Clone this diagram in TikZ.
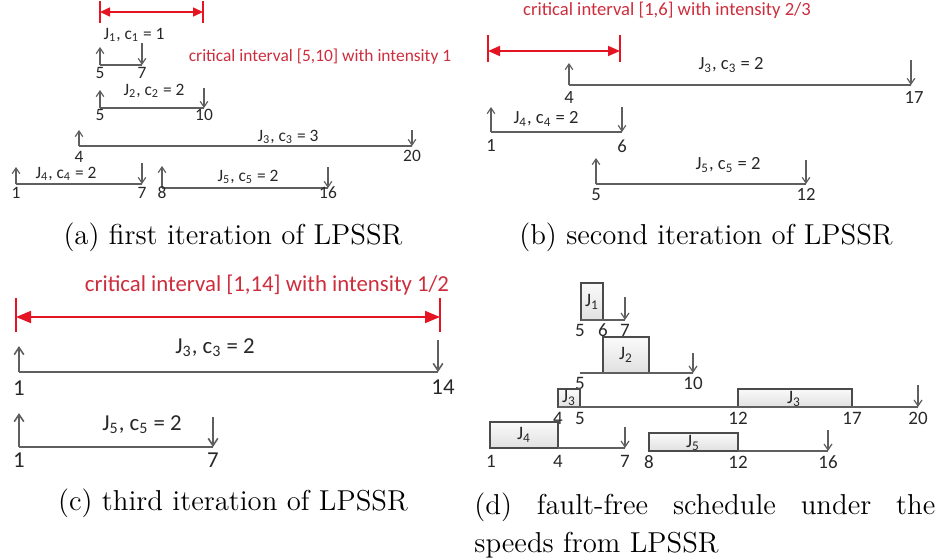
\documentclass[tikz,border=0pt]{standalone}
\usepackage{fontspec}
\newfontfamily\calfont{Carlito}
\usetikzlibrary{arrows.meta}
\definecolor{critred}{RGB}{205,45,60}
\definecolor{arrred}{RGB}{228,20,35}
\definecolor{linegray}{RGB}{95,95,95}
\definecolor{txtgray}{RGB}{40,40,40}
\definecolor{boxgray}{RGB}{75,75,75}
\newcommand\jobrow[7]{%
  \coordinate (#1s) at (#2,#4);
  \coordinate (#1e) at (#3,#4);
  \coordinate (#1u) at (#2,#5);
  \coordinate (#1d) at (#3,#6);
  \draw[jl#7] (#1s) -- (#1e);
  \draw[ja#7] (#1s) -- (#1u);
  \draw[ja#7] (#1d) -- (#1e);
}
\newcommand\critbar[6]{%
  \coordinate (#1l) at (#2,#4);
  \coordinate (#1r) at (#3,#4);
  \coordinate (#1lt) at (#2,#5);
  \coordinate (#1lb) at (#2,#6);
  \coordinate (#1rt) at (#3,#5);
  \coordinate (#1rb) at (#3,#6);
  \draw[ticker] (#1lt) -- (#1lb);
  \draw[ticker] (#1rt) -- (#1rb);
}
\begin{document}
\begin{tikzpicture}[x=0.5pt,y=-0.5pt,
  jla/.style={draw=linegray,line width=0.6pt},
  jaa/.style={jla,-{Straight Barb[length=2.8pt,width=3.8pt]}},
  jlb/.style={jla},
  jab/.style={jaa},
  jlc/.style={draw=linegray,line width=0.8pt},
  jac/.style={jlc,-{Straight Barb[length=3.6pt,width=4.8pt]}},
  jld/.style={draw=linegray,line width=0.6pt},
  jad/.style={jld,-{Straight Barb[length=3pt,width=4pt]}},
  la/.style={font=\calfont\fontsize{8.7}{10}\selectfont,text=txtgray,inner sep=0pt},
  lb/.style={la,font=\calfont\fontsize{9.3}{11}\selectfont},
  lc/.style={la,font=\calfont\fontsize{11.4}{13}\selectfont},
  ld/.style={la,font=\calfont\fontsize{9.5}{11}\selectfont},
  ticker/.style={draw=arrred,line width=0.6pt},
  crita/.style={draw=arrred,line width=0.8pt,{Triangle[length=5pt,width=4.5pt]}-{Triangle[length=5pt,width=4.5pt]}},
  critb/.style={draw=arrred,line width=0.9pt,{Triangle[length=6pt,width=5pt]}-{Triangle[length=6pt,width=5pt]}},
  critc/.style={draw=arrred,line width=0.9pt,{Triangle[length=7.5pt,width=6pt]}-{Triangle[length=7.5pt,width=6pt]}},
  captext/.style={font=\fontsize{14.4}{19}\selectfont,inner sep=0pt},
  dbox/.style={draw=boxgray,line width=0.6pt,top color=gray!4,bottom color=gray!24}]
\useasboundingbox (0,0) rectangle (941,558);

% ================= (a) =================
\critbar{ca}{100}{203}{12}{1}{23}
\draw[crita] (cal) -- (car);
\node[la,text=critred] (ta) at (320,57) {critical interval [5,10] with intensity 1};
\jobrow{a1}{100}{142}{65}{47}{43}{a}
\node[la] (a1l) at (134,35) {J\textsubscript{1}, c\textsubscript{1} = 1};
\node[la] (a1x) at (100,73) {5};
\node[la] (a1y) at (142,73) {7};
\jobrow{a2}{100}{204}{108}{90}{88}{a}
\node[la] (a2l) at (154,91) {J\textsubscript{2}, c\textsubscript{2} = 2};
\node[la] (a2x) at (100,115) {5};
\node[la] (a2y) at (204,115) {10};
\jobrow{a3}{79}{412}{146}{130}{130}{a}
\node[la] (a3l) at (288,137) {J\textsubscript{3}, c\textsubscript{3} = 3};
\node[la] (a3x) at (79,157) {4};
\node[la] (a3y) at (412,156) {20};
\jobrow{a4}{16}{142}{184}{167}{163}{a}
\node[la] (a4l) at (66,174) {J\textsubscript{4}, c\textsubscript{4} = 2};
\node[la] (a4x) at (16,193) {1};
\node[la] (a4y) at (142,193) {7};
\jobrow{a5}{162}{328}{188}{166}{167}{a}
\node[la] (a5l) at (248,177) {J\textsubscript{5}, c\textsubscript{5} = 2};
\node[la] (a5x) at (162,193) {8};
\node[la] (a5y) at (328,193) {16};
\node[captext] (capa) at (233,237) {(a) first iteration of LPSSR};

% ================= (b) =================
\node[lb,text=critred] (tb) at (667,10) {critical interval [1,6] with intensity 2/3};
\critbar{cb}{488}{620}{51}{35}{62}
\draw[critb] (cbl) -- (cbr);
\jobrow{b3}{569}{911}{85}{63}{60}{b}
\node[lb] (b3l) at (731,65) {J\textsubscript{3}, c\textsubscript{3} = 2};
\node[lb] (b3x) at (569,98) {4};
\node[lb] (b3y) at (914,98) {17};
\jobrow{b4}{491}{622}{132}{107}{107}{b}
\node[lb] (b4l) at (546,119) {J\textsubscript{4}, c\textsubscript{4} = 2};
\node[lb] (b4x) at (491,146) {1};
\node[lb] (b4y) at (622,146) {6};
\jobrow{b5}{596}{806}{184}{158}{160}{b}
\node[lb] (b5l) at (728,165) {J\textsubscript{5}, c\textsubscript{5} = 2};
\node[lb] (b5x) at (596,195) {5};
\node[lb] (b5y) at (806,194) {12};
\node[captext] (capb) at (706,237) {(b) second iteration of LPSSR};

% ================= (c) =================
\node[lc,text=critred] (tc) at (267,285) {critical interval [1,14] with intensity 1/2};
\critbar{cc}{16}{440}{317}{298}{332}
\draw[critc] (ccl) -- (ccr);
\jobrow{c3}{19}{438}{372}{346}{340}{c}
\node[lc] (c3l) at (215,348) {J\textsubscript{3}, c\textsubscript{3} = 2};
\node[lc] (c3x) at (19,388) {1};
\node[lc] (c3y) at (443,387) {14};
\jobrow{c5}{19}{213}{447}{413}{417}{c}
\node[lc] (c5l) at (142,425) {J\textsubscript{5}, c\textsubscript{5} = 2};
\node[lc] (c5x) at (19,460) {1};
\node[lc] (c5y) at (213,460) {7};
\node[captext] (capc) at (233,503) {(c) third iteration of LPSSR};

% ================= (d) =================
% J1
\path[dbox] (581,283) rectangle (603,320);
\node[ld] (d1b) at (592,302) {J\textsubscript{1}};
\coordinate (d1s) at (581,320); \coordinate (d1e) at (625,320); \coordinate (d1d) at (625,297);
\draw[jld] (d1s) -- (d1e);
\draw[jad] (d1d) -- (d1e);
\node[ld] (d1x) at (580,330) {5};
\node[ld] (d1y) at (603,330) {6};
\node[ld] (d1z) at (625,330) {7};
% J2
\path[dbox] (603,337) rectangle (649,373);
\node[ld] (d2b) at (626,355) {J\textsubscript{2}};
\coordinate (d2s) at (580,373); \coordinate (d2e) at (693,373); \coordinate (d2d) at (693,353);
\draw[jld] (d2s) -- (d2e);
\draw[jad] (d2d) -- (d2e);
\node[ld] (d2x) at (580,383) {5};
\node[ld] (d2y) at (693,383) {10};
% J3
\path[dbox] (558,389) rectangle (580,407);
\node[ld] (d3b) at (569,398) {J\textsubscript{3}};
\path[dbox] (738,389) rectangle (852,407);
\node[ld] (d3c) at (794,399) {J\textsubscript{3}};
\coordinate (d3s) at (558,407); \coordinate (d3e) at (918,407); \coordinate (d3d) at (918,385);
\draw[jld] (d3s) -- (d3e);
\draw[jad] (d3d) -- (d3e);
\node[ld] (d3x) at (558,418) {4};
\node[ld] (d3y) at (580,418) {5};
\node[ld] (d3z) at (738,418) {12};
\node[ld] (d3w) at (852,418) {17};
\node[ld] (d3v) at (918,418) {20};
% J4
\path[dbox] (490,422) rectangle (558,448);
\node[ld] (d4b) at (524,435) {J\textsubscript{4}};
\coordinate (d4s) at (558,448); \coordinate (d4e) at (625,448); \coordinate (d4d) at (625,427);
\draw[jld] (d4s) -- (d4e);
\draw[jad] (d4d) -- (d4e);
\node[ld] (d4x) at (491,461) {1};
\node[ld] (d4y) at (558,461) {4};
\node[ld] (d4z) at (625,461) {7};
% J5
\path[dbox] (649,433) rectangle (738,451);
\node[ld] (d5b) at (693,443) {J\textsubscript{5}};
\coordinate (d5s) at (738,451); \coordinate (d5e) at (828,451); \coordinate (d5d) at (828,430);
\draw[jld] (d5s) -- (d5e);
\draw[jad] (d5d) -- (d5e);
\node[ld] (d5x) at (649,462) {8};
\node[ld] (d5y) at (738,462) {12};
\node[ld] (d5z) at (828,462) {16};
\node[captext,text width=230.5pt,align=justify,anchor=north west] (capd) at (474,492)
  {(d) fault-free schedule under the\linebreak speeds from LPSSR};
\end{tikzpicture}
\end{document}
